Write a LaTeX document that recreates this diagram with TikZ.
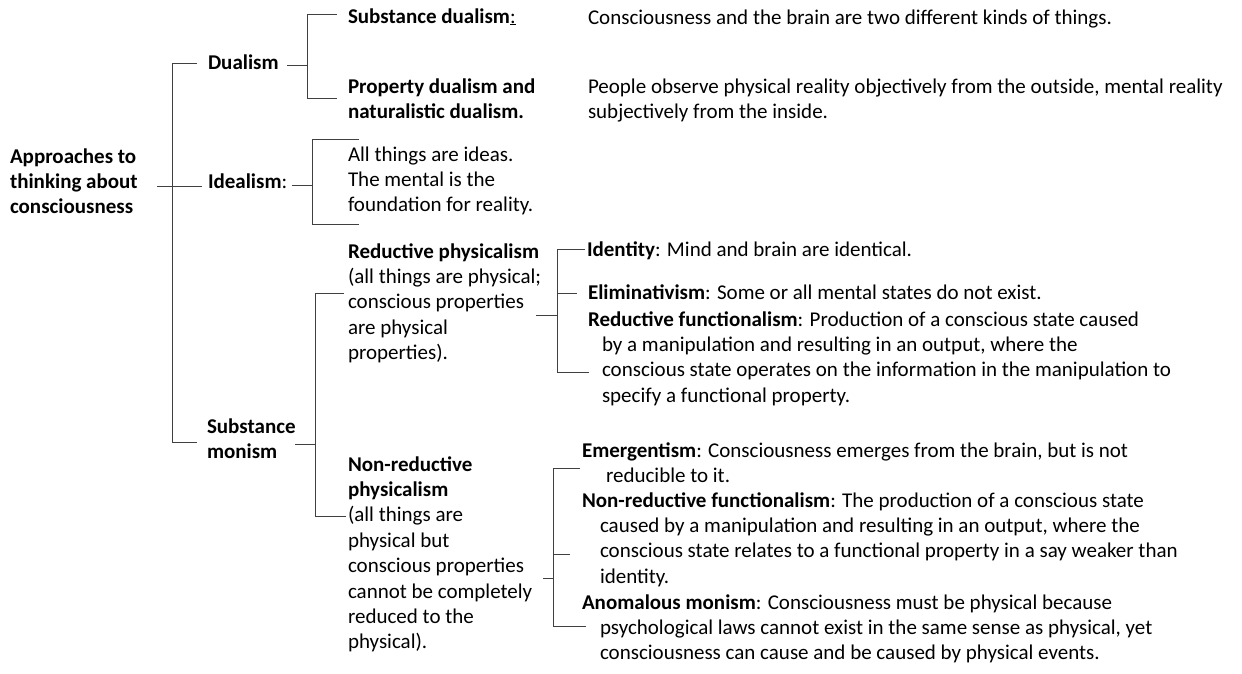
\documentclass[tikz,border=0pt]{standalone}
\usepackage{fontspec}
\setmainfont{Carlito}
% a block of left-aligned lines whose baseline is that of its first line
\newcommand{\tblock}[1]{\begin{tabular}[t]{@{}l@{}}#1\end{tabular}}
\newcommand{\ind}[1][14pt]{\hspace*{#1}}
\begin{document}
\begin{tikzpicture}[x=1pt,y=-1pt,
  txt/.style={anchor=base west, inner sep=0pt, outer sep=0pt,
    font=\fontsize{21}{25.4}\selectfont},
  hd/.style={txt, font=\fontsize{21}{25.4}\selectfont\bfseries},
  link/.style={draw=black!75, line width=0.95pt}]
\useasboundingbox (0,0) rectangle (1242,673);

% ---------- first level ----------
\node[hd] (root) at (10,163) {\tblock{Approaches to\\thinking about\\consciousness}};
\node[hd] (dual) at (208,69) {Dualism};
\node[txt] (ideal) at (208,188) {\textbf{Idealism}:};
\node[hd] (monism) at (207,433) {\tblock{Substance\\monism}};

% ---------- second level ----------
\node[txt] (subdual) at (348,23) {\textbf{Substance dualism}\underline{:}};
\node[hd] (propdual) at (348,93) {\tblock{Property dualism and\\naturalistic dualism.}};
\node[txt] (ideas) at (348,161) {\tblock{All things are ideas.\\The mental is the\\foundation for reality.}};
\node[txt] (redphys) at (348,258) {\tblock{\textbf{Reductive physicalism}\\(all things are physical;\\conscious properties\\are physical\\properties).}};
\node[txt] (nonred) at (348,471) {\tblock{\textbf{Non-reductive}\\\textbf{physicalism}\\(all things are\\physical but\\conscious properties\\cannot be completely\\reduced to the\\physical).}};

% ---------- descriptions ----------
\node[txt] (subdesc) at (588,24) {Consciousness and the brain are two different kinds of things.};
\node[txt] (propdesc) at (588,93) {\tblock{People observe physical reality objectively from the outside, mental reality\\subjectively from the inside.}};
\node[txt] (ident) at (587,256) {\textbf{Identity}: Mind and brain are identical.};
\node[txt] (elim) at (588,299) {\textbf{Eliminativism}: Some or all mental states do not exist.};
\node[txt] (redfunc) at (588,326) {\tblock{\textbf{Reductive functionalism}: Production of a conscious state caused\\
  \ind by a manipulation and resulting in an output, where the\\
  \ind conscious state operates on the information in the manipulation to\\
  \ind specify a functional property.}};
\node[txt] (emerg) at (582,457) {\tblock{\textbf{Emergentism}: Consciousness emerges from the brain, but is not\\
  \ind[24pt]reducible to it.}};
\node[txt] (nrfunc) at (582,507) {\tblock{\textbf{Non-reductive functionalism}: The production of a conscious state\\
  \ind[18pt]caused by a manipulation and resulting in an output, where the\\
  \ind[18pt]conscious state relates to a functional property in a say weaker than\\
  \ind[18pt]identity.}};
\node[txt] (anom) at (582,609) {\tblock{\textbf{Anomalous monism}: Consciousness must be physical because\\
  \ind[18pt]psychological laws cannot exist in the same sense as physical, yet\\
  \ind[18pt]consciousness can cause and be caused by physical events.}};

% ---------- bracket points ----------
\coordinate (rootOut) at (157,186);  \coordinate (rootIn) at (202,186);
\coordinate (rA) at (197,63);  \coordinate (rB) at (172,63);
\coordinate (rC) at (172,442); \coordinate (rD) at (197,442);

\coordinate (dOut) at (287,65);  \coordinate (dMid) at (307,65);
\coordinate (dA) at (337,14);  \coordinate (dB) at (307,14);
\coordinate (dC) at (307,98);  \coordinate (dD) at (337,98);

\coordinate (iOut) at (292,185); \coordinate (iMid) at (312,185);
\coordinate (iA) at (359,139); \coordinate (iB) at (312,139);
\coordinate (iC) at (312,224); \coordinate (iD) at (359,224);

\coordinate (mOut) at (295,444); \coordinate (mMid) at (315,444);
\coordinate (mA) at (344,293); \coordinate (mB) at (315,293);
\coordinate (mC) at (315,516); \coordinate (mD) at (346,516);

\coordinate (pOut) at (536,315); \coordinate (pMid) at (557,315);
\coordinate (pA) at (585,249); \coordinate (pB) at (557,249);
\coordinate (pE) at (557,293); \coordinate (pF) at (577,293);
\coordinate (pC) at (557,372); \coordinate (pD) at (589,372);

\coordinate (nOut) at (543,578); \coordinate (nMid) at (553,578);
\coordinate (nA) at (580,468); \coordinate (nB) at (553,468);
\coordinate (nE) at (553,554); \coordinate (nF) at (570,554);
\coordinate (nC) at (553,626); \coordinate (nD) at (586,626);

% ---------- connectors ----------
\draw[link] (rootOut) -- (rootIn);
\draw[link] (rA) -- (rB) -- (rC) -- (rD);

\draw[link] (dOut) -- (dMid);
\draw[link] (dA) -- (dB) -- (dC) -- (dD);

\draw[link] (iOut) -- (iMid);
\draw[link] (iA) -- (iB) -- (iC) -- (iD);

\draw[link] (mOut) -- (mMid);
\draw[link] (mA) -- (mB) -- (mC) -- (mD);

\draw[link] (pOut) -- (pMid);
\draw[link] (pA) -- (pB) -- (pC) -- (pD);
\draw[link] (pE) -- (pF);

\draw[link] (nOut) -- (nMid);
\draw[link] (nA) -- (nB) -- (nC) -- (nD);
\draw[link] (nE) -- (nF);
\end{tikzpicture}
\end{document}
